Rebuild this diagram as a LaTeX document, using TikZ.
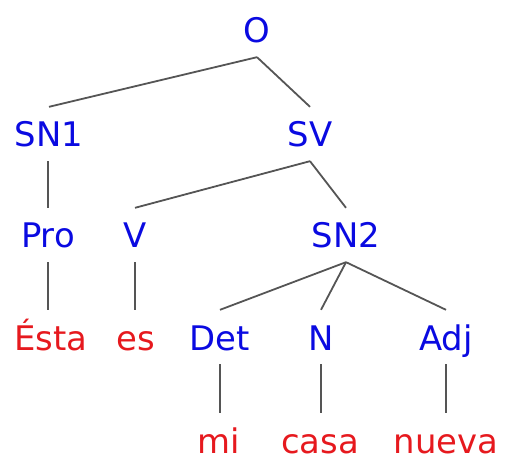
\documentclass[tikz,border=0pt]{standalone}
\usepackage{fontspec}
\setmainfont{DejaVu Sans}
\usepackage{tikz}
\definecolor{catblue}{RGB}{10,10,225}
\definecolor{wordred}{RGB}{230,25,30}
\definecolor{branchgray}{RGB}{85,85,85}

\tikzset{
  lab/.style={anchor=base,inner xsep=2pt,inner ysep=6pt,text height=34bp,text depth=8bp,font=\fontsize{34}{40}\selectfont},
  cat/.style={lab,text=catblue},
  word/.style={lab,text=wordred},
  branch/.style={draw=branchgray,line width=1.8bp}
}

\begin{document}
\begin{tikzpicture}[x=1bp,y=-1bp]
	\useasboundingbox (0,0) rectangle (511,460);

	% categories
	\node[cat] (O) at (257,43) {O};
	\node[cat] (SN1) at (49,147) {SN1};
	\node[cat] (SV) at (310,147) {SV};
	\node[cat] (Pro) at (48,248) {Pro};
	\node[cat] (V) at (135,248) {V};
	\node[cat] (SN2) at (346,248) {SN2};
	\node[cat] (Det) at (220,350) {Det};
	\node[cat] (N) at (321,350) {N};
	\node[cat] (Adj) at (446,350) {Adj};

	% words
	\node[word] (esta) at (51,350) {Ésta};
	\node[word] (es) at (136,350) {es};
	\node[word] (mi) at (219,453) {mi};
	\node[word] (casa) at (320,453) {casa};
	\node[word] (nueva) at (446,453) {nueva};

	% branches
	\draw[branch] (O.south) -- (SN1.north);
	\draw[branch] (O.south) -- (SV.north);
	\draw[branch] (Pro.north |- SN1.south) -- (Pro.north);
	\draw[branch] (SV.south) -- (V.north);
	\draw[branch] (SV.south) -- (SN2.north);
	\draw[branch] (Pro.south) -- (Pro.south |- esta.north);
	\draw[branch] (V.south) -- (V.south |- es.north);
	\draw[branch] (SN2.south) -- (Det.north);
	\draw[branch] (SN2.south) -- (N.north);
	\draw[branch] (SN2.south) -- (Adj.north);
	\draw[branch] (Det.south) -- (Det.south |- mi.north);
	\draw[branch] (N.south) -- (N.south |- casa.north);
	\draw[branch] (Adj.south) -- (Adj.south |- nueva.north);
\end{tikzpicture}
\end{document}
